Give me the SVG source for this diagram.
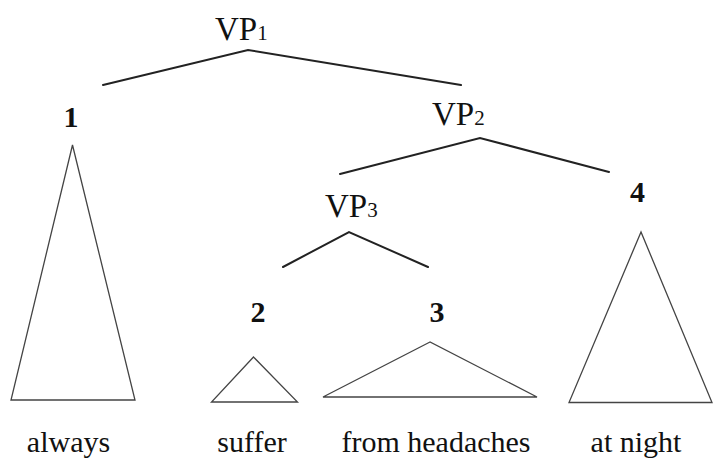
<svg xmlns="http://www.w3.org/2000/svg" width="713" height="459" viewBox="0 0 713 459">
<style>
text{font-family:'Liberation Serif','Times New Roman','DejaVu Serif',serif;fill:#111}
.vp{font-size:33px}
.sub{font-size:21px}
.num{font-size:30px;font-weight:bold;text-anchor:middle}
.word{font-size:30px;text-anchor:middle}
.edge{fill:none;stroke:#222;stroke-width:2;stroke-linecap:round;stroke-linejoin:miter}
.tri{fill:none;stroke:#444;stroke-width:1.3;stroke-linejoin:miter}
</style>
<rect width="713" height="459" fill="#fff"/>
<g id="connectors">
<polyline class="edge" points="103,85 248,50 461,85"/>
<polyline class="edge" points="340,174 480,138 609,172"/>
<polyline class="edge" points="283,267 349,232 428,267"/>
</g>
<g id="vp1"><text class="vp" x="215" y="40" font-family="Liberation Serif, serif">VP<tspan class="sub">1</tspan></text></g>
<g id="vp2"><text class="vp" x="432" y="125" font-family="Liberation Serif, serif">VP<tspan class="sub">2</tspan></text></g>
<g id="vp3"><text class="vp" x="325" y="217" font-family="Liberation Serif, serif">VP<tspan class="sub">3</tspan></text></g>
<g id="n1"><text class="num" x="71" y="127">1</text><polygon class="tri" points="72.5,145 11,400 135,400"/><text class="word" x="68.5" y="452">always</text></g>
<g id="n2"><text class="num" x="258" y="322">2</text><polygon class="tri" points="253.5,357 211.5,402 297.5,402"/><text class="word" x="252" y="452">suffer</text></g>
<g id="n3"><text class="num" x="437" y="322">3</text><polygon class="tri" points="430,342 323,397 537,397"/><text class="word" x="436" y="452">from headaches</text></g>
<g id="n4"><text class="num" x="637.5" y="202">4</text><polygon class="tri" points="641,232 569,402.5 712,402.5"/><text class="word" x="636" y="452">at night</text></g>
</svg>
